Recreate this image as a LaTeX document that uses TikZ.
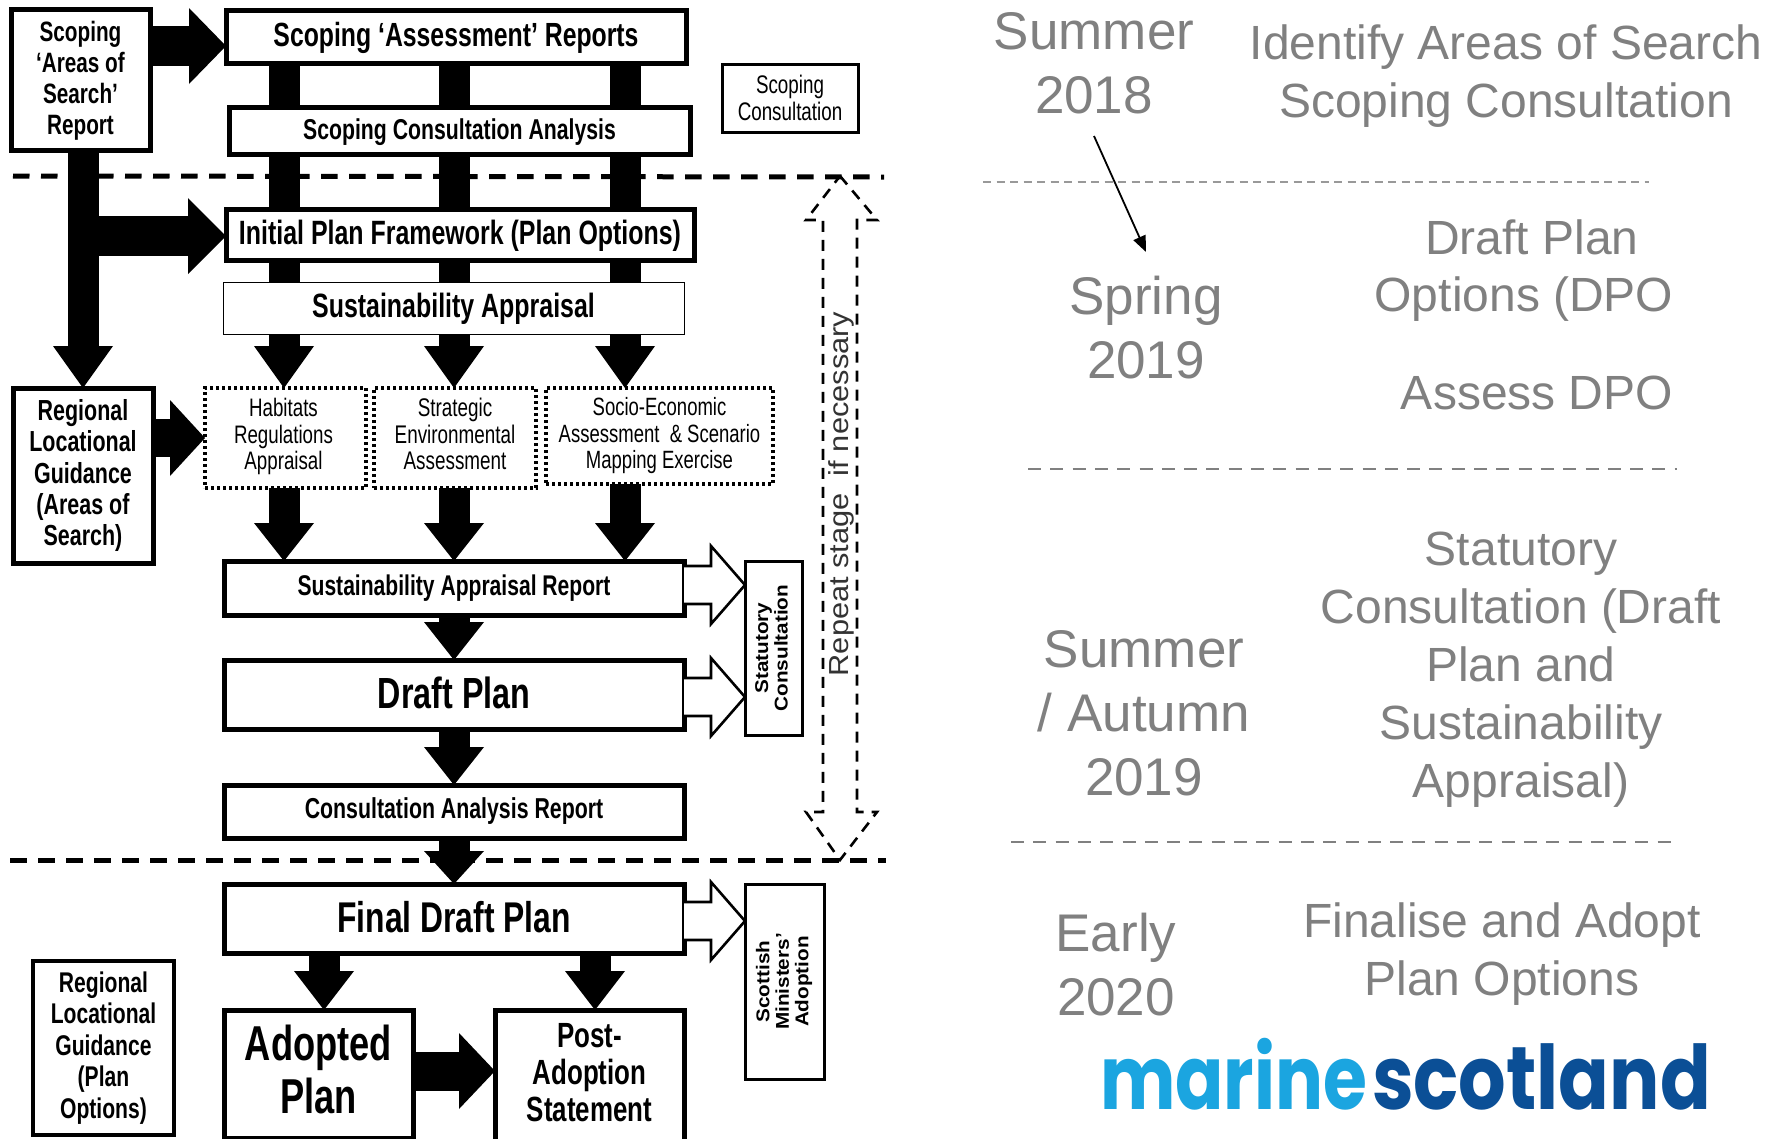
\documentclass[tikz,border=0pt]{standalone}
\usepackage{fontspec}
\setmainfont{Liberation Sans}
\newfontfamily\cf[FakeStretch=0.74]{Liberation Sans}
\newfontfamily\wf[FakeStretch=1.12]{Liberation Sans}
\newfontfamily\logoa[FakeStretch=0.80]{Poppins}
\newfontfamily\logob[FakeStretch=0.84]{Poppins}
\usetikzlibrary{arrows.meta,calc,backgrounds}
\definecolor{gtext}{HTML}{808080}
\definecolor{mlight}{HTML}{1BA5E0}
\definecolor{mdark}{HTML}{0B4F96}
\newcommand{\fs}[2]{\fontsize{#1}{#2}\selectfont}
% extra room above (#1) and below (#2) a block of lines: moves it down or up within its box
\newcommand{\vtab}[3]{\raisebox{0pt}[\dimexpr\height+#1\relax][\dimexpr\depth+#2\relax]{\begin{tabular}{@{}c@{}}#3\end{tabular}}}
% name x1 y1 x2 y2 style text
\newcommand{\bx}[7]{\node[#6,minimum width={#4-#2},minimum height={#5-#3}] (#1) at ({(#2+#4)/2},{(#3+#5)/2}) {#7};}
\tikzset{
  flow/.style={draw=black,fill=white,line width=5pt,inner sep=0pt,outer sep=0pt,align=center},
  thinbox/.style={draw=black,fill=white,line width=3pt,inner sep=0pt,outer sep=0pt,align=center},
  hair/.style={draw=black,fill=white,line width=1pt,inner sep=0pt,outer sep=0pt,align=center},
  dotbox/.style={draw=black,fill=white,line width=3.5pt,dash pattern=on 3pt off 3pt,inner sep=0pt,outer sep=0pt,align=center},
  bar/.style={line width=31pt,draw=black},
  blk/.style={line width=31pt,draw=black,-{Triangle[length=#1,width=60pt,line width=0pt]}},
  hblk/.style={line width=40pt,draw=black,-{Triangle[length=#1,width=76pt,line width=0pt]}},
  period/.style={draw=black,line width=5pt,dash pattern=on 16.5pt off 11.5pt},
  hollow/.style={draw=black,fill=white,line width=2.6pt,miter limit=10},
  rt/.style={text=gtext,align=center,inner sep=0pt,outer sep=0pt,font=\fs{48}{58}},
  rs/.style={text=gtext,align=center,inner sep=0pt,outer sep=0pt,font=\fs{53}{64}},
}
\newcommand{\hollowarr}[3]{%
  \draw[hollow] ($(#1.east|-#3)+(0,-19)$) -- ++(27,0) -- ++(0,-20) -- (#2.west|-#3) -- ($(#1.east|-#3)+(27,39)$) -- ++(0,-20) -- ($(#1.east|-#3)+(0,19)$);}
\begin{document}
\begin{tikzpicture}[x=1pt,y=-1pt]
\useasboundingbox (0,0) rectangle (1775,1138);
\coordinate (c1) at (284,0);
\coordinate (c2) at (454,0);
\coordinate (c3) at (625,0);
\coordinate (lb) at (83,0);
\coordinate (r1) at (0,46);
\coordinate (r2) at (0,236);
\coordinate (r3) at (0,585);
\coordinate (r4) at (0,697);
\coordinate (r5) at (0,921);
\coordinate (r6) at (0,1071);
\coordinate (c4) at (324,0);
\coordinate (c5) at (595,0);
\bx{scope}{11}{9}{150}{150}{flow,font=\cf\bfseries\fs{28}{31}}{\vtab{4.6pt}{0pt}{Scoping\\‘Areas of\\Search’\\Report}}
\bx{assess}{226}{10}{686}{63}{flow,font=\cf\bfseries\fs{33.5}{38}}{\vtab{4.6pt}{0pt}{Scoping ‘Assessment’ Reports}}
\bx{analysis}{229}{107}{690}{154}{flow,font=\cf\bfseries\fs{28.7}{33}}{\vtab{4.6pt}{0pt}{Scoping Consultation Analysis}}
\bx{initial}{226}{209}{694}{260}{flow,font=\cf\bfseries\fs{33.7}{38}}{\vtab{4.6pt}{0pt}{Initial Plan Framework (Plan Options)}}
\bx{sa}{223}{282}{684}{334}{hair,font=\cf\bfseries\fs{33.7}{38}}{\vtab{4.6pt}{0pt}{Sustainability Appraisal}}
\bx{hab}{205}{388}{366}{488}{dotbox,font=\cf\fs{25.3}{26.5}}{\begin{tabular}{@{}c@{}}Habitats\\Regulations\\Appraisal\end{tabular}\hspace{4pt}}
\bx{sea}{374}{388}{536}{488}{dotbox,font=\cf\fs{25.5}{26.5}}{\vtab{0pt}{0pt}{Strategic\\Environmental\\Assessment}}
\bx{socio}{546}{388}{773}{484}{dotbox,font=\cf\fs{25}{26.5}}{Socio-Economic\\Assessment \ \& Scenario\\Mapping Exercise}
\bx{rlg}{13}{388}{153}{563}{flow,font=\cf\bfseries\fs{29}{31.2}}{Regional\\Locational\\Guidance\\(Areas of\\Search)}
\bx{report}{224}{561}{684}{615}{flow,font=\cf\bfseries\fs{28.5}{33}}{\raisebox{3pt}{Sustainability Appraisal Report}}
\bx{draft}{224}{660}{684}{729}{flow,font=\cf\bfseries\fs{43.6}{49}}{\raisebox{3pt}{Draft Plan}}
\bx{car}{224}{785}{684}{838}{flow,font=\cf\bfseries\fs{28.8}{33}}{\raisebox{3pt}{Consultation Analysis Report}}
\bx{final}{224}{884}{684}{953}{flow,font=\cf\bfseries\fs{43}{48}}{\raisebox{3pt}{Final Draft Plan}}
\bx{rlgp}{33}{961}{174}{1135}{thinbox,line width=4pt,font=\cf\bfseries\fs{28.5}{31.5}}{Regional\\Locational\\Guidance\\(Plan\\Options)}
\bx{adopted}{224}{1010}{413}{1138}{flow,font=\cf\bfseries\fs{49}{53}}{\vtab{4.6pt}{0pt}{Adopted\\Plan}}
\bx{post}{495}{1010}{684}{1145}{flow,font=\cf\bfseries\fs{35}{37}}{\vtab{0pt}{0pt}{Post-\\Adoption\\Statement}}
\bx{scons}{722}{64}{858}{132}{thinbox,font=\cf\fs{25.4}{26.5}}{Scoping\\Consultation}
\bx{stat}{745}{561}{802}{735}{thinbox,font=\wf\bfseries\fs{18.5}{21.5}}{\rotatebox{90}{\begin{tabular}{@{}c@{}}Statutory\\[-2pt]Consultation\end{tabular}}}
\bx{mins}{745}{884}{824}{1079}{thinbox,font=\wf\bfseries\fs{18.5}{21.5}}{\rotatebox{90}{\begin{tabular}{@{}c@{}}Scottish\\[-2pt]Ministers’\\[-2pt]Adoption\end{tabular}}}
\begin{pgfonlayer}{background}
\fill[white] (0,0) rectangle (1775,1138);
\coordinate (pa) at (13,176); \coordinate (pb) at (884,177);
\coordinate (pc) at (10,860); \coordinate (pd) at (886,860);
\draw[period] (pa) -- (pb);
\draw[period] (pc) -- (pd);
\draw[bar] (c1|-assess.south) -- (c1|-sa.north);
\draw[bar] (c2|-assess.south) -- (c2|-sa.north);
\draw[bar] (c3|-assess.south) -- (c3|-sa.north);
\end{pgfonlayer}
% connectors
\draw[hblk=37pt] (scope.east|-r1) -- (assess.west|-r1);
\draw[bar] (lb|-scope.south) -- (lb|-r2);
\draw[hblk=38pt] (lb|-r2) -- (initial.west|-r2);
\draw[blk=42pt] (lb|-scope.south) -- (lb|-rlg.north);
\draw[blk=42pt] (c1|-sa.south) -- (c1|-hab.north);
\draw[blk=42pt] (c2|-sa.south) -- (c2|-sea.north);
\draw[blk=42pt] (c3|-sa.south) -- (c3|-socio.north);
\draw[hblk=35pt,line width=38pt] (rlg.east|-hab.west) -- (hab.west);
\draw[blk=38pt] (c1|-hab.south) -- (c1|-report.north);
\draw[blk=38pt] (c2|-sea.south) -- (c2|-report.north);
\draw[blk=38pt] (c3|-socio.south) -- (c3|-report.north);
\draw[blk=38pt] (c2|-report.south) -- (c2|-draft.north);
\draw[blk=38pt] (c2|-draft.south) -- (c2|-car.north);
\draw[blk=33pt] (c2|-car.south) -- (c2|-final.north);
\draw[blk=39pt] (c4|-final.south) -- (c4|-adopted.north);
\draw[blk=39pt] (c5|-final.south) -- (c5|-post.north);
\draw[hblk=36pt,line width=39pt] (adopted.east|-r6) -- (post.west|-r6);
\hollowarr{report}{stat}{r3}
\hollowarr{draft}{stat}{r4}
\hollowarr{final}{mins}{r5}
% repeat arrow
\coordinate (rtop) at (840,176);
\coordinate (rbot) at (840,860);
\draw[line width=2.6pt,dash pattern=on 11pt off 8pt]
  (rtop) -- ++(37,44) -- ++(-20,0) -- (857,812) -- ++(20,0) -- (rbot) -- ++(-34,-48) -- ++(17,0) -- (823,220) -- ++(-17,0) -- cycle;
\node[rotate=90,inner sep=0pt,outer sep=0pt,text=black!80,font=\wf\fs{27.5}{30}] (rep) at (841,494) {Repeat stage \ if necessary};
% right column
\node[rs] (t1) at (1094,63) {Summer\\2018};
\node[rt] (t2) at (1506,76.5) {Identify Areas of Search\\Scoping Consultation};
\coordinate (s1a) at (983,182); \coordinate (s1b) at (1649,182);
\draw[draw=black!40,line width=2pt,dash pattern=on 8pt off 5.5pt] (s1a) -- (s1b);
\coordinate (aa) at (1094,136); \coordinate (ab) at (1146,252);
\draw[line width=1.8pt,-{Triangle[length=16pt,width=13pt]}] (aa) -- (ab);
\node[rs] (t3) at (1146,328) {Spring\\2019};
\node[rt] (t4) at (1532,237) {Draft Plan};
\node[rt] (t5) at (1524,299.5) {Options (DPO};
\node[rt] (t6) at (1537,393) {Assess DPO};
\coordinate (s2a) at (1028,469); \coordinate (s2b) at (1677,469);
\draw[draw=black!50,line width=2.5pt,dash pattern=on 13pt off 9.3pt] (s2a) -- (s2b);
\node[rs] (t7) at (1144,713) {Summer\\/ Autumn\\2019};
\node[rt] (t8) at (1521,670) {Statutory\\Consultation (Draft\\Plan and\\Sustainability\\Appraisal)};
\coordinate (s3a) at (1011,842); \coordinate (s3b) at (1675,842);
\draw[draw=black!50,line width=2.5pt,dash pattern=on 13pt off 9.3pt] (s3a) -- (s3b);
\node[rs] (t9) at (1116,965) {Early\\2020};
\node[rt] (t10) at (1502,954.5) {Finalise and Adopt\\Plan Options};
% logo
\node[inner sep=0pt,outer sep=0pt,anchor=base west,text=mlight,font=\logoa\bfseries\fs{89}{89}] (logom) at (1100,1109) {marine};
\node[inner sep=0pt,outer sep=0pt,anchor=base west,text=mdark,font=\logob\bfseries\fs{89}{89}] (logos) at (1372,1109) {scotland};
\end{tikzpicture}
\end{document}
